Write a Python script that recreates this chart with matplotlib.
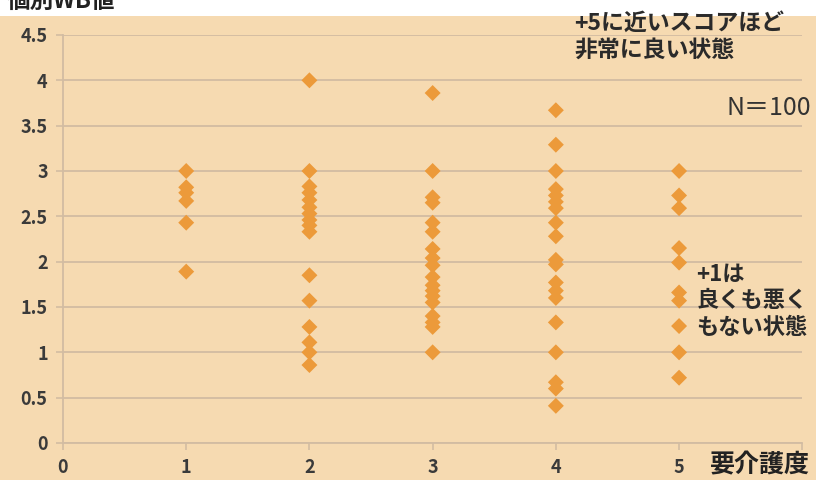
"""Scatter of individual WB scores by care level."""

import matplotlib.pyplot as plt
from matplotlib.patches import Rectangle

plt.rcParams["font.family"] = ["Noto Sans CJK JP", "DejaVu Sans"]

# WB score per respondent, grouped by care level (要介護度)
level_1 = [3.0, 2.82, 2.76, 2.67, 2.43, 1.89]
level_2 = [4.0, 3.0, 2.83, 2.76, 2.68, 2.6, 2.53, 2.46, 2.4, 2.33,
           1.85, 1.57, 1.28, 1.11, 1.0, 0.86]
level_3 = [3.86, 3.0, 2.71, 2.65, 2.43, 2.33, 2.14, 2.04, 1.96, 1.83,
           1.74, 1.68, 1.62, 1.55, 1.4, 1.33, 1.28, 1.0]
level_4 = [3.67, 3.29, 3.0, 2.8, 2.73, 2.66, 2.59, 2.43, 2.28, 2.02,
           1.97, 1.77, 1.68, 1.6, 1.33, 1.0, 0.67, 0.6, 0.41]
level_5 = [3.0, 2.73, 2.59, 2.15, 1.99, 1.66, 1.57, 1.29, 1.0, 0.72]

levels = [1, 2, 3, 4, 5]
scores = [level_1, level_2, level_3, level_4, level_5]
x_ticks = [0, 1, 2, 3, 4, 5]
y_ticks = [0, 0.5, 1, 1.5, 2, 2.5, 3, 3.5, 4, 4.5]

BG = "#F6DAB1"
ORANGE = "#EC9A3A"
GRID = "#D2BCA2"
TEXT = "#3a3a3a"

fig = plt.figure(figsize=(8.16, 4.8), dpi=100, facecolor=BG)
fig.add_artist(Rectangle((0, 0.966), 1, 0.04, transform=fig.transFigure,
                         facecolor="white", edgecolor="none", zorder=0))
fig.text(0.008, 0.998, "個別WB値", fontsize=17, fontweight="bold",
         color="#222222", va="center", ha="left")

ax = fig.add_axes([0.0772, 0.0771, 0.906, 0.85])
ax.set_facecolor(BG)

for lv, vals in zip(levels, scores):
    ax.scatter([lv] * len(vals), vals, marker="D", s=66, color=ORANGE,
               edgecolors="none", zorder=3)

ax.set_xlim(0, 6)
ax.set_ylim(0, 4.5)
ax.set_xticks(x_ticks + [6])
ax.set_xticklabels([str(t) for t in x_ticks] + [""])
ax.set_yticks(y_ticks)
ax.set_yticklabels(["0", "0.5", "1", "1.5", "2", "2.5", "3", "3.5", "4", "4.5"])
ax.yaxis.grid(True, color=GRID, linewidth=1.3)
ax.set_axisbelow(True)

for side in ("top", "right"):
    ax.spines[side].set_visible(False)
for side in ("left", "bottom"):
    ax.spines[side].set_color(GRID)
    ax.spines[side].set_linewidth(1.3)
ax.tick_params(axis="both", colors=GRID, length=5, width=1.2)
ax.tick_params(axis="y", labelsize=13, labelcolor=TEXT, pad=6)
ax.tick_params(axis="x", labelsize=13, labelcolor=TEXT, pad=6)
for lbl in ax.get_xticklabels() + ax.get_yticklabels():
    lbl.set_fontweight("bold")

ax.text(6.06, -0.25, "要介護度", fontsize=18, fontweight="bold",
        color="#222222", ha="right", va="center", clip_on=False)
ax.text(4.15, 4.48, "+5に近いスコアほど\n非常に良い状態", fontsize=16.5,
        fontweight="bold", color="#2a2a2a", ha="left", va="center",
        linespacing=1.25, clip_on=False)
ax.text(6.07, 3.69, "N＝100", fontsize=18, color="#333333",
        ha="right", va="center", clip_on=False)
ax.text(5.14, 1.57, "+1は\n良くも悪く\nもない状態", fontsize=16,
        fontweight="bold", color="#2a2a2a", ha="left", va="center",
        linespacing=1.2, clip_on=False)

fig.savefig("out.png", dpi=100, facecolor=BG)
